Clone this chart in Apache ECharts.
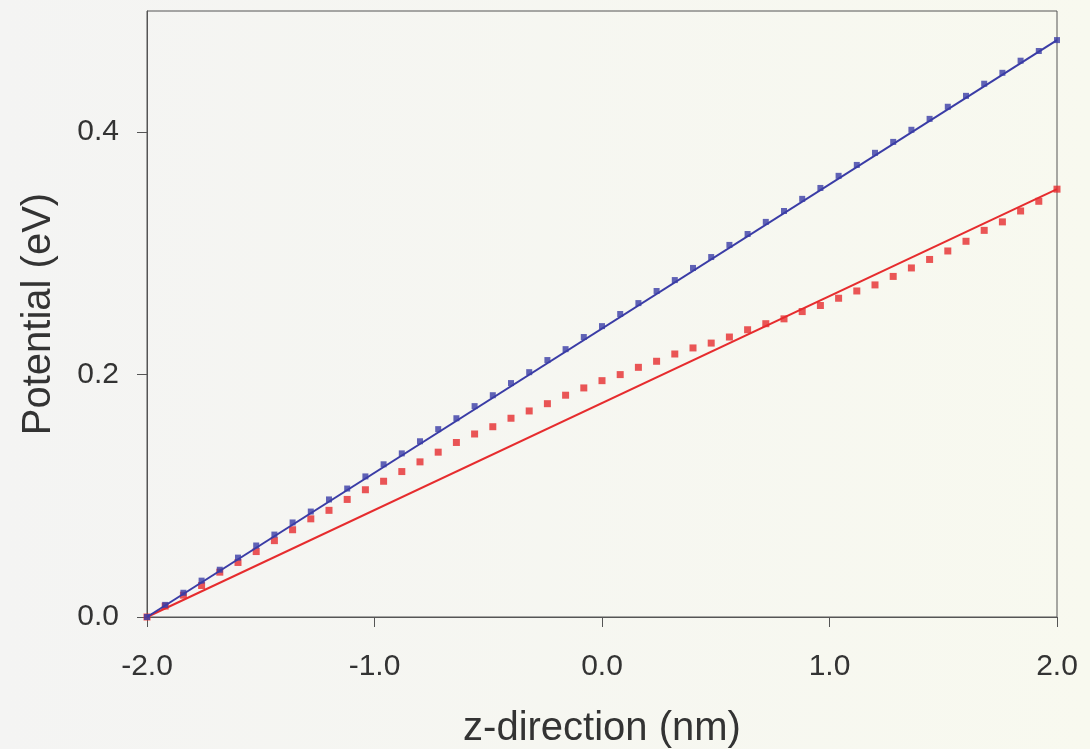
<!DOCTYPE html>
<html>
<head>
<meta charset="utf-8">
<script src="https://cdn.jsdelivr.net/npm/echarts@6/dist/echarts.min.js"></script>
<style>
  html, body { margin: 0; padding: 0; background: #f6f6f3; }
  #chart { width: 1090px; height: 749px; }
</style>
</head>
<body>
<div id="chart"></div>
<script>
// Position along z (nm) of each sampled point
const zPositions = [
  -2.00, -1.92, -1.84, -1.76, -1.68, -1.60, -1.52, -1.44, -1.36, -1.28,
  -1.20, -1.12, -1.04, -0.96, -0.88, -0.80, -0.72, -0.64, -0.56, -0.48,
  -0.40, -0.32, -0.24, -0.16, -0.08, 0.00, 0.08, 0.16, 0.24, 0.32,
  0.40, 0.48, 0.56, 0.64, 0.72, 0.80, 0.88, 0.96, 1.04, 1.12,
  1.20, 1.28, 1.36, 1.44, 1.52, 1.60, 1.68, 1.76, 1.84, 1.92, 2.00
];

// Computed potential, blue set (eV)
const bluePotential = [
  0.000, 0.010, 0.020, 0.030, 0.039, 0.049, 0.059, 0.068, 0.078, 0.087,
  0.097, 0.106, 0.116, 0.126, 0.135, 0.145, 0.155, 0.164, 0.174, 0.183,
  0.193, 0.202, 0.212, 0.221, 0.231, 0.240, 0.250, 0.259, 0.269, 0.278,
  0.288, 0.297, 0.307, 0.316, 0.326, 0.335, 0.345, 0.354, 0.364, 0.373,
  0.383, 0.392, 0.402, 0.411, 0.421, 0.430, 0.440, 0.449, 0.459, 0.467, 0.476
];

// Computed potential, red set (eV)
const redPotential = [
  0.000, 0.009, 0.018, 0.026, 0.037, 0.045, 0.054, 0.063, 0.072, 0.081,
  0.088, 0.097, 0.105, 0.112, 0.120, 0.128, 0.136, 0.144, 0.151, 0.157,
  0.164, 0.170, 0.176, 0.183, 0.189, 0.195, 0.200, 0.206, 0.211, 0.217,
  0.222, 0.226, 0.231, 0.237, 0.242, 0.246, 0.252, 0.257, 0.263, 0.269,
  0.274, 0.281, 0.288, 0.295, 0.302, 0.310, 0.319, 0.326, 0.335, 0.343, 0.353
];

// Straight reference lines: endpoints [z, potential]
const blueLine = [[-2.0, 0.000], [2.0, 0.476]];
const redLine = [[-2.0, 0.000], [2.0, 0.353]];

// Axis settings
const xTicks = { min: -2, max: 2, interval: 1 };
const yTicks = { min: 0, max: 0.5, interval: 0.2 };

const blueColor = '#3a3ca6';
const redColor = '#e62c2e';
const inkColor = '#333333';
const frameColor = '#555555';
const fontFamily = '"Liberation Sans", Arial, sans-serif';

const pair = (xs, ys) => xs.map((x, i) => [x, ys[i]]);

const chart = echarts.init(document.getElementById('chart'), null, { renderer: 'canvas' });

chart.setOption({
  animation: false,
  backgroundColor: {
    type: 'linear', x: 0, y: 0, x2: 1, y2: 0,
    colorStops: [
      { offset: 0, color: '#f4f4f3' },
      { offset: 1, color: '#f8f9ef' }
    ]
  },
  textStyle: { fontFamily: fontFamily },
  grid: {
    left: 147, right: 33, top: 11, bottom: 132,
    containLabel: false,
    outerBoundsMode: 'none',
    show: true, borderColor: frameColor, borderWidth: 1,
    backgroundColor: 'transparent'
  },
  xAxis: {
    type: 'value',
    min: xTicks.min, max: xTicks.max, interval: xTicks.interval,
    name: 'z-direction (nm)',
    nameLocation: 'middle',
    nameGap: 92,
    nameTextStyle: { fontSize: 40, color: inkColor, fontFamily: fontFamily },
    axisLine: { show: true, onZero: false, lineStyle: { color: frameColor, width: 1 } },
    axisTick: { show: true, inside: false, length: 10, lineStyle: { color: frameColor } },
    axisLabel: {
      fontSize: 30, color: inkColor, margin: 35, fontFamily: fontFamily,
      formatter: v => v.toFixed(1)
    },
    splitLine: { show: false }
  },
  yAxis: {
    type: 'value',
    min: yTicks.min, max: yTicks.max, interval: yTicks.interval,
    name: 'Potential (eV)',
    nameLocation: 'middle',
    nameGap: 88,
    nameTextStyle: { fontSize: 40, color: inkColor, fontFamily: fontFamily },
    axisLine: { show: true, onZero: false, lineStyle: { color: frameColor, width: 1 } },
    axisTick: { show: true, inside: false, length: 10, lineStyle: { color: frameColor } },
    axisLabel: {
      fontSize: 30, color: inkColor, margin: 28, fontFamily: fontFamily,
      showMaxLabel: false,
      formatter: v => v.toFixed(1)
    },
    splitLine: { show: false }
  },
  series: [
    {
      name: 'red fit',
      type: 'line',
      data: redLine,
      symbol: 'none',
      lineStyle: { color: redColor, width: 2 },
      z: 2
    },
    {
      name: 'red points',
      type: 'scatter',
      data: pair(zPositions, redPotential),
      symbol: 'rect',
      symbolSize: 7,
      itemStyle: { color: redColor },
      z: 3
    },
    {
      name: 'blue fit',
      type: 'line',
      data: blueLine,
      symbol: 'none',
      lineStyle: { color: blueColor, width: 2 },
      z: 4
    },
    {
      name: 'blue points',
      type: 'scatter',
      data: pair(zPositions, bluePotential),
      symbol: 'rect',
      symbolSize: 6,
      itemStyle: { color: blueColor },
      z: 5
    }
  ]
});
</script>
</body>
</html>
